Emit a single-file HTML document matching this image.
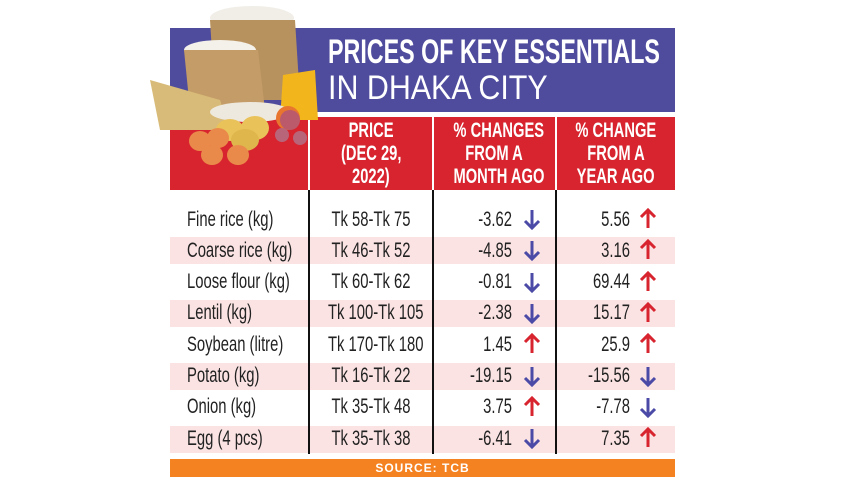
<!DOCTYPE html>
<html><head><meta charset="utf-8"><style>
*{margin:0;padding:0;box-sizing:border-box}
body{width:857px;height:482px;background:#fff;position:relative;overflow:hidden;font-family:"Liberation Sans",sans-serif}
.a{position:absolute}
.blue{left:170px;top:28px;width:505px;height:84px;background:#4f4c9e}
.red{top:117px;height:73px;background:#d7242e}
.t1{left:328px;top:33px;color:#fff;font-weight:bold;font-size:34px;white-space:nowrap;transform-origin:left}
.t2{left:328px;top:69px;color:#fff;font-size:34px;white-space:nowrap;transform-origin:left}
.h{color:#fff;font-weight:bold;font-size:21px;line-height:23px;text-align:center;top:119px}
.h span{display:inline-block;transform:scaleX(.7);white-space:nowrap}
.band{left:170px;width:505px;height:27px;background:#fbe3e3}
.vl{top:190px;width:2px;height:264px;background:#111}
.row{font-size:21px;color:#222;height:31px;line-height:31px;white-space:nowrap}
.src{left:170px;top:459px;width:505px;height:18px;background:#f58220;color:#fff;font-weight:bold;font-size:12px;letter-spacing:1px;text-align:center;line-height:18px}
</style></head><body>
<div class="a blue"></div>
<div class="a red" style="left:170px;width:138px"></div>
<div class="a red" style="left:310px;width:122px"></div>
<div class="a red" style="left:434px;width:121px"></div>
<div class="a red" style="left:557px;width:118px"></div>
<div class="a t1" id="t1">PRICES OF KEY ESSENTIALS</div>
<div class="a t2" id="t2">IN DHAKA CITY</div>
<svg class="a" style="left:140px;top:0" width="180" height="170">
<ellipse cx="112" cy="18" rx="42" ry="12" fill="#f1eee8"/>
<path d="M70 20 L155 20 L160 100 L75 100Z" fill="#b8925e"/>
<ellipse cx="80" cy="50" rx="36" ry="10" fill="#f4f1ea"/>
<path d="M44 50 L118 50 L125 110 L50 110Z" fill="#c39c67"/>
<path d="M10 80 L80 100 L90 130 L20 130Z" fill="#d8bb78"/>
<path d="M143 75 L175 70 L178 120 L140 120Z" fill="#f2b61c"/>
<ellipse cx="110" cy="112" rx="40" ry="10" fill="#eee9df"/>
<circle cx="148" cy="118" r="12" fill="#e8762e"/>
<circle cx="150" cy="120" r="10" fill="#ba5a6a"/>
<ellipse cx="90" cy="130" rx="14" ry="11" fill="#e9c25a"/>
<ellipse cx="115" cy="128" rx="14" ry="12" fill="#e9c25a"/>
<ellipse cx="105" cy="140" rx="14" ry="11" fill="#dfb64c"/>
<circle cx="160" cy="138" r="7" fill="#b8657a"/>
<circle cx="142" cy="135" r="7" fill="#b8657a"/>
<ellipse cx="60" cy="141" rx="11" ry="10" fill="#ea8a4a"/>
<ellipse cx="78" cy="138" rx="11" ry="10" fill="#ea8a4a"/>
<ellipse cx="72" cy="155" rx="11" ry="10" fill="#ea8a4a"/>
<ellipse cx="98" cy="155" rx="11" ry="10" fill="#ea8a4a"/>
</svg>
<div class="a h" style="left:310px;width:122px"><span>PRICE</span><br><span>(DEC 29,</span><br><span>2022)</span></div>
<div class="a h" style="left:434px;width:121px"><span>% CHANGES</span><br><span>FROM A</span><br><span>MONTH AGO</span></div>
<div class="a h" style="left:557px;width:118px"><span>% CHANGE</span><br><span>FROM A</span><br><span>YEAR AGO</span></div>
<div class="a band" style="top:237px"></div>
<div class="a band" style="top:300px"></div>
<div class="a band" style="top:363px"></div>
<div class="a band" style="top:426px"></div>
<div class="a vl" style="left:308px"></div>
<div class="a vl" style="left:432px"></div>
<div class="a vl" style="left:555px"></div>
<svg width="0" height="0" style="position:absolute"><defs>
<g id="dn"><path d="M0 -9 V8 M-7 2 L0 9 L7 2" stroke="#4b4aa6" stroke-width="3" fill="none"/></g>
<g id="up"><path d="M0 9 V-8 M-7 -2 L0 -9 L7 -2" stroke="#d7242e" stroke-width="3" fill="none"/></g>
</defs></svg>
<div id="rows"></div>
<script>
function fit(id,w){var e=document.getElementById(id);e.style.transform='scaleX('+(w/e.offsetWidth)+')';}
fit('t1',332);fit('t2',220);
var d=[["Fine rice (kg)","Tk 58-Tk 75","-3.62",0,"5.56",1],["Coarse rice (kg)","Tk 46-Tk 52","-4.85",0,"3.16",1],["Loose flour (kg)","Tk 60-Tk 62","-0.81",0,"69.44",1],["Lentil (kg)","Tk 100-Tk 105","-2.38",0,"15.17",1],["Soybean (litre)","Tk 170-Tk 180","1.45",1,"25.9",1],["Potato (kg)","Tk 16-Tk 22","-19.15",0,"-15.56",0],["Onion (kg)","Tk 35-Tk 48","3.75",1,"-7.78",0],["Egg (4 pcs)","Tk 35-Tk 38","-6.41",0,"7.35",1]];
var S='transform:scaleX(.705);';
var h="";d.forEach(function(r,i){var c=219+i*31.3,t=c-15.5;
h+='<div class="a row" style="left:187px;top:'+t+'px;'+S+'transform-origin:left">'+r[0]+'</div>';
h+='<div class="a row" style="left:310px;width:122px;text-align:center;top:'+t+'px;'+S+'transform-origin:center">'+r[1]+'</div>';
h+='<div class="a row" style="left:412px;width:100px;text-align:right;top:'+t+'px;'+S+'transform-origin:right">'+r[2]+'</div>';
h+='<div class="a row" style="left:530px;width:100px;text-align:right;top:'+t+'px;'+S+'transform-origin:right">'+r[4]+'</div>';
h+='<svg class="a" style="left:522px;top:'+(c-11)+'px" width="20" height="22"><use href="#'+(r[3]?'up':'dn')+'" x="10" y="11"/></svg>';
h+='<svg class="a" style="left:638px;top:'+(c-11)+'px" width="20" height="22"><use href="#'+(r[5]?'up':'dn')+'" x="10" y="11"/></svg>';
});document.getElementById('rows').innerHTML=h;
</script>
<div class="a src">SOURCE: TCB</div>
</body></html>
